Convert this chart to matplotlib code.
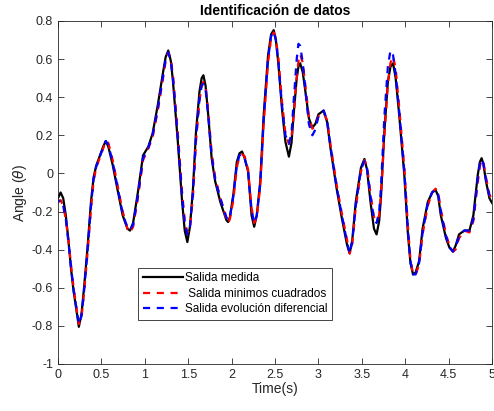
import numpy as np
import matplotlib
matplotlib.use("Agg")
import matplotlib.pyplot as plt
from matplotlib.lines import Line2D

plt.rcParams['font.family'] = ['Liberation Sans', 'DejaVu Sans']
plt.rcParams['axes.unicode_minus'] = False

# time base (s)
t = [0, 0.03, 0.06, 0.09, 0.12, 0.15, 0.18, 0.21, 0.24, 0.27, 0.30, 0.34, 0.38, 0.41, 0.44,
     0.48, 0.52, 0.55, 0.58, 0.63, 0.69, 0.745, 0.80, 0.83, 0.865, 0.92, 0.98, 1.04, 1.09,
     1.15, 1.21, 1.24, 1.27, 1.30, 1.325, 1.38, 1.43, 1.46, 1.49, 1.52, 1.555, 1.59, 1.63,
     1.655, 1.675, 1.70, 1.73, 1.77, 1.81, 1.87, 1.94, 1.96, 1.98, 2.02, 2.06, 2.09, 2.12,
     2.15, 2.19, 2.23, 2.26, 2.29, 2.33, 2.37, 2.42, 2.455, 2.485, 2.51, 2.54, 2.58, 2.62,
     2.66, 2.69, 2.715, 2.75, 2.77, 2.79, 2.82, 2.85, 2.89, 2.93, 2.965, 3.0, 3.06, 3.10,
     3.14, 3.21, 3.27, 3.33, 3.36, 3.39, 3.43, 3.49, 3.53, 3.56, 3.60, 3.64, 3.67, 3.70,
     3.72, 3.76, 3.80, 3.83, 3.86, 3.89, 3.93, 3.99, 4.03, 4.06, 4.09, 4.12, 4.16, 4.20,
     4.26, 4.31, 4.35, 4.38, 4.41, 4.47, 4.51, 4.55, 4.58, 4.62, 4.68, 4.74, 4.785, 4.835,
     4.86, 4.88, 4.90, 4.93, 4.97, 5.0]

# salida medida
y_medida = [-0.13, -0.10, -0.13, -0.22, -0.35, -0.50, -0.62, -0.71, -0.805, -0.74, -0.60,
            -0.39, -0.15, -0.02, 0.04, 0.09, 0.14, 0.17, 0.14, 0.045, -0.095, -0.22, -0.29,
            -0.30, -0.26, -0.10, 0.095, 0.14, 0.21, 0.36, 0.53, 0.61, 0.645, 0.59, 0.48, 0.17,
            -0.15, -0.30, -0.36, -0.28, -0.08, 0.22, 0.43, 0.50, 0.515, 0.46, 0.31, 0.08,
            -0.04, -0.15, -0.245, -0.255, -0.23, -0.11, 0.06, 0.105, 0.115, 0.08, 0.01, -0.22,
            -0.28, -0.22, -0.04, 0.31, 0.62, 0.73, 0.752, 0.70, 0.57, 0.34, 0.166, 0.088, 0.16,
            0.31, 0.50, 0.56, 0.578, 0.53, 0.43, 0.29, 0.24, 0.26, 0.31, 0.33, 0.27, 0.13,
            -0.08, -0.235, -0.375, -0.42, -0.35, -0.15, 0.03, 0.076, 0.02, -0.15, -0.29, -0.32,
            -0.25, -0.13, 0.22, 0.48, 0.56, 0.578, 0.50, 0.31, -0.01, -0.31, -0.47, -0.53,
            -0.52, -0.46, -0.29, -0.15, -0.10, -0.087, -0.12, -0.22, -0.34, -0.39, -0.41,
            -0.38, -0.32, -0.30, -0.30, -0.22, -0.01, 0.06, 0.08, 0.05, -0.04, -0.13, -0.155]

# salida minimos cuadrados
y_mc = [-0.15, -0.14, -0.17, -0.24, -0.35, -0.48, -0.60, -0.70, -0.79, -0.76, -0.63,
        -0.42, -0.19, -0.04, 0.03, 0.08, 0.13, 0.17, 0.16, 0.07, -0.07, -0.20, -0.29,
        -0.31, -0.28, -0.13, 0.07, 0.13, 0.19, 0.33, 0.50, 0.59, 0.635, 0.60, 0.51, 0.21,
        -0.10, -0.25, -0.31, -0.29, -0.12, 0.17, 0.38, 0.46, 0.48, 0.46, 0.33, 0.11,
        -0.02, -0.13, -0.24, -0.26, -0.24, -0.14, 0.03, 0.09, 0.10, 0.09, 0.02, -0.18,
        -0.26, -0.23, -0.07, 0.26, 0.58, 0.71, 0.74, 0.71, 0.60, 0.38, 0.21, 0.155, 0.19,
        0.31, 0.50, 0.59, 0.625, 0.58, 0.46, 0.30, 0.235, 0.25, 0.30, 0.32, 0.28, 0.15,
        -0.06, -0.21, -0.35, -0.42, -0.37, -0.18, 0.01, 0.07, 0.04, -0.11, -0.23, -0.25,
        -0.22, -0.12, 0.20, 0.47, 0.58, 0.615, 0.55, 0.35, 0.03, -0.27, -0.45, -0.53,
        -0.53, -0.48, -0.32, -0.17, -0.10, -0.08, -0.10, -0.19, -0.32, -0.38, -0.41,
        -0.40, -0.34, -0.30, -0.31, -0.25, -0.05, 0.04, 0.07, 0.06, -0.02, -0.11, -0.14]

# salida evolucion diferencial
y_ed = [-0.15, -0.14, -0.17, -0.24, -0.36, -0.49, -0.61, -0.70, -0.79, -0.75, -0.62,
        -0.41, -0.17, -0.03, 0.035, 0.085, 0.135, 0.17, 0.15, 0.06, -0.08, -0.21, -0.285,
        -0.295, -0.27, -0.12, 0.08, 0.135, 0.20, 0.34, 0.51, 0.60, 0.635, 0.59, 0.50, 0.19,
        -0.12, -0.26, -0.32, -0.28, -0.10, 0.19, 0.39, 0.46, 0.47, 0.44, 0.31, 0.09,
        -0.03, -0.13, -0.23, -0.245, -0.23, -0.12, 0.04, 0.095, 0.10, 0.08, 0.01, -0.19,
        -0.26, -0.22, -0.06, 0.28, 0.60, 0.72, 0.745, 0.70, 0.58, 0.36, 0.20, 0.155, 0.21,
        0.38, 0.60, 0.68, 0.67, 0.58, 0.44, 0.26, 0.20, 0.23, 0.30, 0.33, 0.28, 0.14,
        -0.07, -0.22, -0.36, -0.42, -0.36, -0.17, 0.02, 0.065, 0.03, -0.12, -0.24, -0.26,
        -0.20, -0.08, 0.30, 0.56, 0.645, 0.62, 0.52, 0.33, 0.01, -0.29, -0.46, -0.53,
        -0.53, -0.47, -0.31, -0.16, -0.10, -0.085, -0.11, -0.20, -0.33, -0.385, -0.41,
        -0.39, -0.33, -0.30, -0.30, -0.24, -0.03, 0.05, 0.075, 0.055, -0.03, -0.12, -0.145]

labels = ['Salida medida', ' Salida minimos cuadrados', 'Salida evolución diferencial']
yticks = [-1, -0.8, -0.6, -0.4, -0.2, 0, 0.2, 0.4, 0.6, 0.8]
xticks = [0, 0.5, 1, 1.5, 2, 2.5, 3, 3.5, 4, 4.5, 5]

fig = plt.figure(figsize=(4.94, 4.11), dpi=100)
ax = fig.add_axes([0.1174, 0.1144, 0.8786, 0.8346])

dash = (3.2, 3.0)
ax.plot(t, y_medida, color='k', lw=1.6)
ax.plot(t, y_mc, color='r', lw=1.6, ls=(0, dash))
ax.plot(t, y_ed, color='b', lw=1.6, ls=(2.0, dash))

ax.set_xlim(0, 5)
ax.set_ylim(-1, 0.8)
ax.set_xticks(xticks)
ax.set_xticklabels([f'{v:g}' for v in xticks])
ax.set_yticks(yticks)
ax.set_yticklabels([f'{v:g}' for v in yticks])
ax.tick_params(direction='in', top=True, right=True, length=4, width=0.6,
               labelsize=9, colors='0.15')
for s in ax.spines.values():
    s.set_linewidth(0.6)
    s.set_color('0.15')

ax.set_title('Identificación de datos', fontsize=10, fontweight='bold', pad=4)
ax.set_xlabel('Time(s)', fontsize=10, color='0.15', labelpad=1)
ax.set_ylabel(r'Angle ($\theta$)', fontsize=10, color='0.15', labelpad=2)

handles = [Line2D([], [], color='k', lw=1.6),
           Line2D([], [], color='r', lw=1.6, ls=(0, dash)),
           Line2D([], [], color='b', lw=1.6, ls=(0, dash))]
leg = ax.legend(handles, labels, loc='lower left', bbox_to_anchor=(0.184, 0.128),
                fontsize=8.5, handlelength=3.4, handletextpad=0.2, borderpad=0.4,
                labelspacing=0.3, fancybox=False, framealpha=1, edgecolor='0.15',
                borderaxespad=0)
leg.get_frame().set_linewidth(0.6)

fig.savefig('out.png', dpi=100)
